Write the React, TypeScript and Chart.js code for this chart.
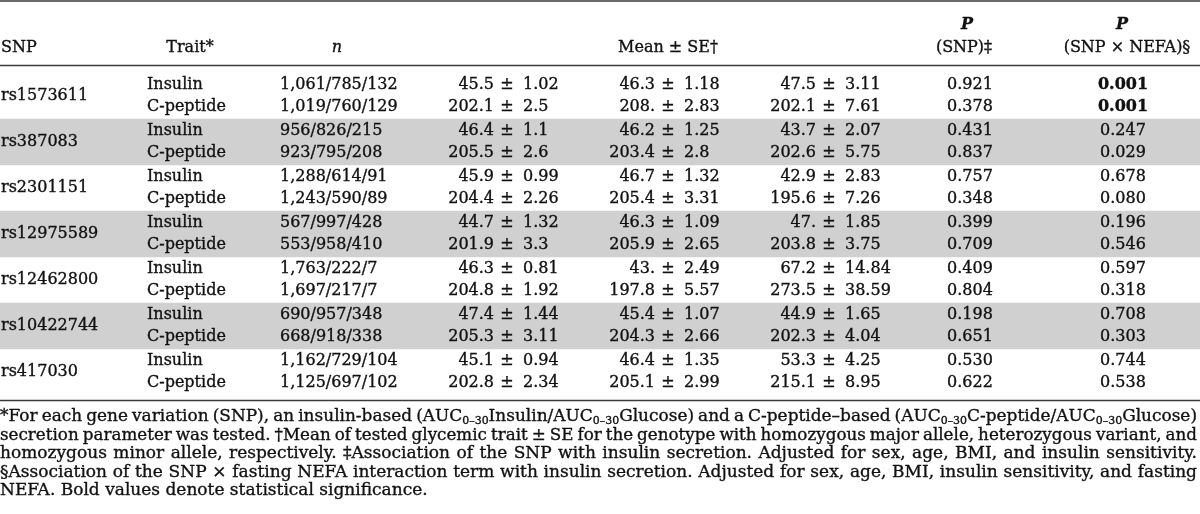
import React, { useEffect, useRef } from 'react';
import { Chart, registerables } from 'chart.js';

Chart.register(...registerables);

// ---------------- data ----------------
const snps = ['rs1573611', 'rs387083', 'rs2301151', 'rs12975589', 'rs12462800', 'rs10422744', 'rs417030'];
const traits = ['Insulin', 'C-peptide'];
const nCounts = [
  '1,061/785/132', '1,019/760/129', '956/826/215', '923/795/208', '1,288/614/91', '1,243/590/89',
  '567/997/428', '553/958/410', '1,763/222/7', '1,697/217/7', '690/957/348', '668/918/338',
  '1,162/729/104', '1,125/697/102',
];
const majorMean = ['45.5', '202.1', '46.4', '205.5', '45.9', '204.4', '44.7', '201.9', '46.3', '204.8', '47.4', '205.3', '45.1', '202.8'];
const majorSE = ['1.02', '2.5', '1.1', '2.6', '0.99', '2.26', '1.32', '3.3', '0.81', '1.92', '1.44', '3.11', '0.94', '2.34'];
const hetMean = ['46.3', '208.', '46.2', '203.4', '46.7', '205.4', '46.3', '205.9', '43.', '197.8', '45.4', '204.3', '46.4', '205.1'];
const hetSE = ['1.18', '2.83', '1.25', '2.8', '1.32', '3.31', '1.09', '2.65', '2.49', '5.57', '1.07', '2.66', '1.35', '2.99'];
const minorMean = ['47.5', '202.1', '43.7', '202.6', '42.9', '195.6', '47.', '203.8', '67.2', '273.5', '44.9', '202.3', '53.3', '215.1'];
const minorSE = ['3.11', '7.61', '2.07', '5.75', '2.83', '7.26', '1.85', '3.75', '14.84', '38.59', '1.65', '4.04', '4.25', '8.95'];
const pSNP = ['0.921', '0.378', '0.431', '0.837', '0.757', '0.348', '0.399', '0.709', '0.409', '0.804', '0.198', '0.651', '0.530', '0.622'];
const pInteraction = ['0.001', '0.001', '0.247', '0.029', '0.678', '0.080', '0.196', '0.546', '0.597', '0.318', '0.708', '0.303', '0.744', '0.538'];
const significantInteraction = [true, true, false, false, false, false, false, false, false, false, false, false, false, false];

const headerSNP = 'SNP';
const headerTrait = 'Trait*';
const headerN = 'n';
const headerMean = 'Mean ± SE†';
const headerP = 'P';
const headerPSNP = '(SNP)‡';
const headerPInter = '(SNP × NEFA)§';

const footnoteLines = [
  '*For each gene variation (SNP), an insulin-based (AUC_{0–30}Insulin/AUC_{0–30}Glucose) and a C-peptide–based (AUC_{0–30}C-peptide/AUC_{0–30}Glucose)',
  'secretion parameter was tested. †Mean of tested glycemic trait ± SE for the genotype with homozygous major allele, heterozygous variant, and',
  'homozygous minor allele, respectively. ‡Association of the SNP with insulin secretion. Adjusted for sex, age, BMI, and insulin sensitivity.',
  '§Association of the SNP × fasting NEFA interaction term with insulin secretion. Adjusted for sex, age, BMI, insulin sensitivity, and fasting',
  'NEFA. Bold values denote statistical significance.',
];
const footnoteJustified = [true, true, true, true, false];

// ---------------- layout & style ----------------
const W = 1200;
const H = 514;
const UNIT = 46; // px per group band
const Y_MIN = -73 / UNIT;
const Y_MAX = Y_MIN + H / UNIT;
const X_MIN = 0;
const X_MAX = 1200;
const ROW_OFFSET = 0.24;

const FONT = '"DejaVu Serif", "Liberation Serif", serif';
const SIZE = 16;
const FOOT_SIZE = 17;
const SUB_SIZE = 11;
const TEXT = '#111111';
const WEIGHT_STROKE = 0.35;
const BAND = '#d0d0d0';
const RULE = '#3a3a3a';

const COL_SNP = 1;
const COL_TRAIT = 147;
const COL_N = 280;
const COL_PM = [507, 668, 829];
const PM_LEFT_GAP = 13;
const PM_RIGHT_GAP = 16;
const COL_PSNP = 970;
const COL_PINTER = 1123;

const HEAD1_V = (25 - 73) / UNIT;
const HEAD2_V = (48 - 73) / UNIT;
const RULE_TOP_V = (1 - 73) / UNIT;
const RULE_HEAD_V = (65.5 - 73) / UNIT;
const RULE_BOTTOM_V = (400.5 - 73) / UNIT;
const FOOT_V = [417, 435.5, 454, 472.5, 491].map((p) => (p - 73) / UNIT);

function parseRuns(word: string) {
  const runs: { t: string; sub: boolean }[] = [];
  const re = /_\{([^}]*)\}/g;
  let last = 0;
  let m: RegExpExecArray | null;
  while ((m = re.exec(word))) {
    if (m.index > last) runs.push({ t: word.slice(last, m.index), sub: false });
    runs.push({ t: m[1], sub: true });
    last = m.index + m[0].length;
  }
  if (last < word.length) runs.push({ t: word.slice(last), sub: false });
  return runs;
}

function put(ctx: CanvasRenderingContext2D, t: string, x: number, y: number) {
  ctx.fillText(t, x, y);
  ctx.strokeText(t, x, y);
}

const tablePlugin = {
  id: 'tableText',
  afterDatasetsDraw(chart: any) {
    const ctx: CanvasRenderingContext2D = chart.ctx;
    const xs = chart.scales.x;
    const ys = chart.scales.y;
    const X = (v: number) => xs.getPixelForValue(v);
    const Y = (v: number) => ys.getPixelForValue(v);
    ctx.save();
    ctx.fillStyle = TEXT;
    ctx.textBaseline = 'middle';

    // rules
    ctx.strokeStyle = RULE;
    ctx.lineWidth = 1.5;
    [RULE_TOP_V, RULE_HEAD_V, RULE_BOTTOM_V].forEach((v) => {
      ctx.beginPath();
      ctx.moveTo(X(X_MIN), Y(v));
      ctx.lineTo(X(X_MAX), Y(v));
      ctx.stroke();
    });

    ctx.strokeStyle = TEXT;
    ctx.lineWidth = WEIGHT_STROKE;

    const norm = `${SIZE}px ${FONT}`;
    const bold = `bold ${SIZE}px ${FONT}`;
    const ital = `italic ${SIZE}px ${FONT}`;
    const boldItal = `italic bold ${SIZE}px ${FONT}`;

    // header
    ctx.font = norm;
    ctx.textAlign = 'left';
    put(ctx, headerSNP, X(COL_SNP), Y(HEAD2_V));
    ctx.textAlign = 'center';
    put(ctx, headerTrait, X(190), Y(HEAD2_V));
    put(ctx, headerMean, X(COL_PM[1]), Y(HEAD2_V));
    put(ctx, headerPSNP, X(964), Y(HEAD2_V));
    put(ctx, headerPInter, X(1127), Y(HEAD2_V));
    ctx.font = ital;
    put(ctx, headerN, X(337), Y(HEAD2_V));
    ctx.font = boldItal;
    put(ctx, headerP, X(967), Y(HEAD1_V));
    put(ctx, headerP, X(1122), Y(HEAD1_V));

    // body
    snps.forEach((s, g) => {
      ctx.font = norm;
      ctx.textAlign = 'left';
      put(ctx, s, X(COL_SNP), Y(g + 0.5));
    });
    const means = [majorMean, hetMean, minorMean];
    const ses = [majorSE, hetSE, minorSE];
    nCounts.forEach((nc, i) => {
      const g = Math.floor(i / 2);
      const r = i % 2;
      const yv = Y(g + 0.5 + (r === 0 ? -ROW_OFFSET : ROW_OFFSET));
      ctx.font = norm;
      ctx.textAlign = 'left';
      put(ctx, traits[r], X(COL_TRAIT), yv);
      put(ctx, nc, X(COL_N), yv);
      for (let k = 0; k < 3; k++) {
        ctx.textAlign = 'right';
        put(ctx, means[k][i], X(COL_PM[k] - PM_LEFT_GAP), yv);
        ctx.textAlign = 'center';
        put(ctx, '±', X(COL_PM[k]), yv);
        ctx.textAlign = 'left';
        put(ctx, ses[k][i], X(COL_PM[k] + PM_RIGHT_GAP), yv);
      }
      ctx.textAlign = 'center';
      put(ctx, pSNP[i], X(COL_PSNP), yv);
      ctx.font = significantInteraction[i] ? bold : norm;
      put(ctx, pInteraction[i], X(COL_PINTER), yv);
    });

    // footnotes (justified)
    const fNorm = `${FOOT_SIZE}px ${FONT}`;
    const fSub = `${SUB_SIZE}px ${FONT}`;
    ctx.textAlign = 'left';
    const left = X(X_MIN);
    const right = X(X_MAX) - 3;
    footnoteLines.forEach((line, li) => {
      const words = line.split(' ').map(parseRuns);
      const widths = words.map((runs) =>
        runs.reduce((acc, rn) => {
          ctx.font = rn.sub ? fSub : fNorm;
          return acc + ctx.measureText(rn.t).width;
        }, 0)
      );
      ctx.font = fNorm;
      const space = ctx.measureText(' ').width;
      const total = widths.reduce((a, b) => a + b, 0);
      const avail = right - left;
      let gap = space;
      let sx = 1;
      if (footnoteJustified[li] && words.length > 1) {
        gap = (avail - total) / (words.length - 1);
        if (gap < space * 0.75) {
          gap = space * 0.75;
          sx = avail / (total + gap * (words.length - 1));
        }
      }
      const yv = Y(FOOT_V[li]);
      ctx.save();
      ctx.translate(left, 0);
      ctx.scale(sx, 1);
      let x = 0;
      words.forEach((runs, wi) => {
        runs.forEach((rn) => {
          ctx.font = rn.sub ? fSub : fNorm;
          put(ctx, rn.t, x, rn.sub ? yv + 4 : yv);
          x += ctx.measureText(rn.t).width;
        });
        if (wi < words.length - 1) x += gap;
      });
      ctx.restore();
    });

    ctx.restore();
  },
};

export default function App() {
  const ref = useRef<HTMLCanvasElement | null>(null);
  useEffect(() => {
    document.body.style.margin = '0';
    const canvas = ref.current;
    if (!canvas) return;
    const chart = new Chart(canvas, {
      type: 'bar',
      data: {
        datasets: [
          {
            label: 'bands',
            data: snps.map((_, g) => ({ x: [X_MIN, X_MAX], y: g + 0.5 })) as any,
            backgroundColor: snps.map((_, g) => (g % 2 === 1 ? BAND : 'rgba(0,0,0,0)')),
            borderWidth: 0,
            barPercentage: 1,
            categoryPercentage: 1,
          },
        ],
      },
      options: {
        indexAxis: 'y',
        animation: false,
        responsive: false,
        maintainAspectRatio: false,
        devicePixelRatio: 1,
        layout: { padding: 0 },
        plugins: { legend: { display: false }, tooltip: { enabled: false }, title: { display: false } },
        scales: {
          x: { type: 'linear', min: X_MIN, max: X_MAX, display: false, offset: false },
          y: { type: 'linear', min: Y_MIN, max: Y_MAX, reverse: true, display: false, offset: false },
        },
      },
      plugins: [tablePlugin],
    });
    return () => chart.destroy();
  }, []);
  return (
    <div style={{ position: 'absolute', left: 0, top: 0, width: W, height: H, background: '#fff' }}>
      <canvas ref={ref} width={W} height={H} style={{ display: 'block' }} />
    </div>
  );
}
